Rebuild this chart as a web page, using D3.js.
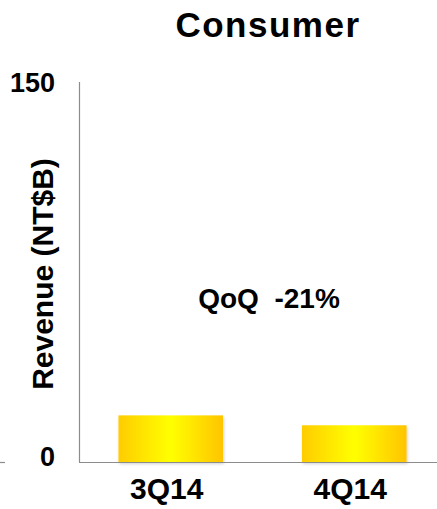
<!DOCTYPE html>
<html>
<head>
<meta charset="utf-8">
<script src="https://cdn.jsdelivr.net/npm/d3@7"></script>
<style>
  html, body { margin: 0; padding: 0; background: #fff; }
  svg { display: block; font-family: "Liberation Sans", Arial, sans-serif; font-weight: bold; }
</style>
</head>
<body>
<svg id="chart" width="437" height="509"></svg>
<script>
const categories = ["3Q14", "4Q14"];
const revenue = [18.4, 14.5];
const yTicks = [0, 150];
const title = "Consumer";
const yTitle = "Revenue (NT$B)";
const note = "QoQ  -21%";

const svg = d3.select("#chart");
const x0 = 79, x1 = 446, yTop = 82, yBase = 462;

const x = d3.scaleBand().domain(categories).range([x0, x1])
  .paddingInner(0.43).paddingOuter(0.215);
const y = d3.scaleLinear().domain([0, 150]).range([yBase, yTop]);

const defs = svg.append("defs");
const g = defs.append("linearGradient").attr("id", "gold").attr("x1", "0").attr("x2", "1").attr("y1", "0").attr("y2", "0");
g.append("stop").attr("offset", "0%").attr("stop-color", "#FFCC00");
g.append("stop").attr("offset", "50%").attr("stop-color", "#FFFF00");
g.append("stop").attr("offset", "100%").attr("stop-color", "#FFC400");
const f = defs.append("filter").attr("id", "shadow").attr("x", "-10%").attr("y", "-10%").attr("width", "130%").attr("height", "130%");
f.append("feDropShadow").attr("dx", 1).attr("dy", 2).attr("stdDeviation", 1.5).attr("flood-color", "#000").attr("flood-opacity", 0.18);

// Title
svg.append("text").attr("x", 268).attr("y", 37).attr("text-anchor", "middle")
  .attr("font-size", 35).attr("letter-spacing", 1.5).attr("fill", "#000").text(title);

// bars
svg.selectAll("rect.bar").data(categories).join("rect")
  .attr("class", "bar")
  .attr("x", d => x(d))
  .attr("width", x.bandwidth())
  .attr("y", (d, i) => y(revenue[i]))
  .attr("height", (d, i) => yBase - y(revenue[i]))
  .attr("fill", "url(#gold)")
  .attr("filter", "url(#shadow)");

// axes lines
svg.append("line").attr("x1", x0 + 0.5).attr("x2", x0 + 0.5).attr("y1", yTop).attr("y2", yBase)
  .attr("stroke", "#8c8c8c").attr("stroke-width", 1.2);
svg.append("line").attr("x1", x0).attr("x2", 437).attr("y1", yBase + 0.5).attr("y2", yBase + 0.5)
  .attr("stroke", "#8c8c8c").attr("stroke-width", 1.2);
svg.append("line").attr("x1", 0).attr("x2", 5).attr("y1", yBase + 0.5).attr("y2", yBase + 0.5)
  .attr("stroke", "#8c8c8c").attr("stroke-width", 1.2);

// y tick labels
const yAxis = d3.axisLeft(y).tickValues(yTicks).tickSize(0).tickPadding(24);
const ya = svg.append("g").attr("transform", `translate(${x0},0)`).call(yAxis);
ya.select(".domain").remove();
ya.selectAll("text").attr("font-size", 27).attr("font-family", "Liberation Sans, Arial, sans-serif")
  .attr("font-weight", "bold").attr("fill", "#000")
  .attr("dy", d => d === 0 ? "0.12em" : "0.35em");

// x labels
const xAxis = d3.axisBottom(x).tickSize(0).tickPadding(16);
const xa = svg.append("g").attr("transform", `translate(-4,${yBase})`).call(xAxis);
xa.select(".domain").remove();
xa.selectAll("text").attr("font-size", 30).attr("font-family", "Liberation Sans, Arial, sans-serif")
  .attr("font-weight", "bold").attr("fill", "#000");

// y title
svg.append("text").attr("transform", "translate(53,274) rotate(-90)")
  .attr("text-anchor", "middle").attr("font-size", 30).attr("fill", "#000").text(yTitle);

// note
svg.append("text").attr("x", 269).attr("y", 308).attr("text-anchor", "middle")
  .attr("font-size", 28).attr("fill", "#000").style("white-space", "pre").text(note);
</script>
</body>
</html>
